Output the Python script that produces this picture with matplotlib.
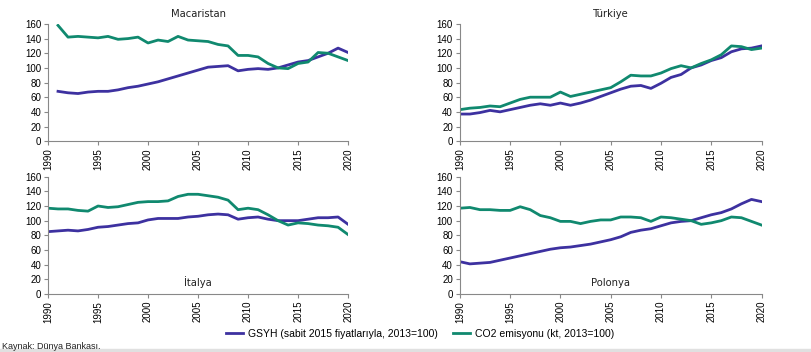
import numpy as np
import matplotlib
matplotlib.use('Agg')
import matplotlib.pyplot as plt
from matplotlib.patches import Rectangle

# DATA:
# ==================================================================
years = list(range(1990, 2021))

hu_years = list(range(1991, 2021))
hu_gdp = [68, 66, 65, 67, 68, 68, 70, 73, 75, 78, 81, 85, 89, 93, 97, 101,
          102, 103, 96, 98, 99, 98, 100, 104, 108, 110, 115, 120, 127, 121]
hu_co2 = [158, 142, 143, 142, 141, 143, 139, 140, 142, 134, 138, 136, 143, 138,
          137, 136, 132, 130, 117, 117, 115, 106, 100, 99, 106, 108, 121, 120,
          115, 110]

tr_gdp = [37, 37, 39, 42, 40, 43, 46, 49, 51, 49, 52, 49, 52, 56, 61, 66, 71,
          75, 76, 72, 79, 87, 91, 100, 104, 110, 114, 122, 126, 127, 130]
tr_co2 = [43, 45, 46, 48, 47, 52, 57, 60, 60, 60, 67, 61, 64, 67, 70, 73, 81,
          90, 89, 89, 93, 99, 103, 100, 106, 111, 118, 130, 129, 125, 127]

it_gdp = [85, 86, 87, 86, 88, 91, 92, 94, 96, 97, 101, 103, 103, 103, 105, 106,
          108, 109, 108, 102, 104, 105, 102, 100, 100, 100, 102, 104, 104, 105, 95]
it_co2 = [117, 116, 116, 114, 113, 120, 118, 119, 122, 125, 126, 126, 127, 133,
          136, 136, 134, 132, 128, 115, 117, 115, 108, 100, 94, 97, 96, 94, 93,
          91, 81]

pl_gdp = [44, 41, 42, 43, 46, 49, 52, 55, 58, 61, 63, 64, 66, 68, 71, 74, 78,
          84, 87, 89, 93, 97, 99, 100, 104, 108, 111, 116, 123, 129, 126]
pl_co2 = [117, 118, 115, 115, 114, 114, 119, 115, 107, 104, 99, 99, 96, 99, 101,
          101, 105, 105, 104, 99, 105, 104, 102, 100, 95, 97, 100, 105, 104, 99, 94]

C_GDP = '#3d31a0'
C_CO2 = '#10896f'

# MAKE PLOT:
# ==================================================================
fig = plt.figure(figsize=(8.11, 3.52), dpi=100)
plt.rcParams['font.family'] = ['Liberation Sans', 'DejaVu Sans']

panels = [
    ('Macaristan', hu_years, hu_gdp, hu_co2, [0.0592, 0.599, 0.370, 0.333], 'top'),
    ('Türkiye', years, tr_gdp, tr_co2, [0.567, 0.599, 0.372, 0.333], 'top'),
    ('İtalya', years, it_gdp, it_co2, [0.0592, 0.165, 0.370, 0.333], 'in'),
    ('Polonya', years, pl_gdp, pl_co2, [0.567, 0.165, 0.372, 0.333], 'in'),
]

for name, xx, gdp, co2, pos, tpos in panels:
    ax = fig.add_axes(pos)
    l1, = ax.plot(xx, gdp, color=C_GDP, lw=2.0)
    l2, = ax.plot(xx, co2, color=C_CO2, lw=2.0)
    ax.set_xlim(1990, 2020)
    ax.set_ylim(0, 160)
    ax.set_xticks(range(1990, 2021, 5))
    ax.set_yticks(range(0, 161, 20))
    ax.tick_params(axis='x', labelrotation=90, labelsize=7, length=3,
                   color='#888888', pad=2)
    ax.tick_params(axis='y', labelsize=7, length=3, color='#888888', pad=2)
    for s in ['top', 'right']:
        ax.spines[s].set_visible(False)
    for s in ['left', 'bottom']:
        ax.spines[s].set_color('#888888')
        ax.spines[s].set_linewidth(0.8)
    tfont = dict(family=['Liberation Sans Narrow', 'DejaVu Sans'], fontsize=8,
                 fontweight='normal', ha='center', color='#222222',
                 fontstretch='condensed')
    if tpos == 'top':
        ax.text(0.5, 1.04, name, transform=ax.transAxes, va='bottom', **tfont)
    else:
        ax.text(0.5, 0.05, name, transform=ax.transAxes, va='bottom', **tfont)

fig.legend([l1, l2], ['GSYH (sabit 2015 fiyatlarıyla, 2013=100)',
                      'CO2 emisyonu (kt, 2013=100)'],
           loc='center', bbox_to_anchor=(0.518, 0.052), ncol=2, frameon=False,
           fontsize=7.5, handlelength=1.6, handletextpad=0.5, columnspacing=1.5)

fig.text(0.002, 0.017, 'Kaynak: Dünya Bankası.', fontsize=6.5, va='center',
         color='#222222')

fig.patches.append(Rectangle((0, 0), 1, 0.008, transform=fig.transFigure,
                             color='#e0e0e0', zorder=-1))

fig.savefig('out.png', dpi=100)
